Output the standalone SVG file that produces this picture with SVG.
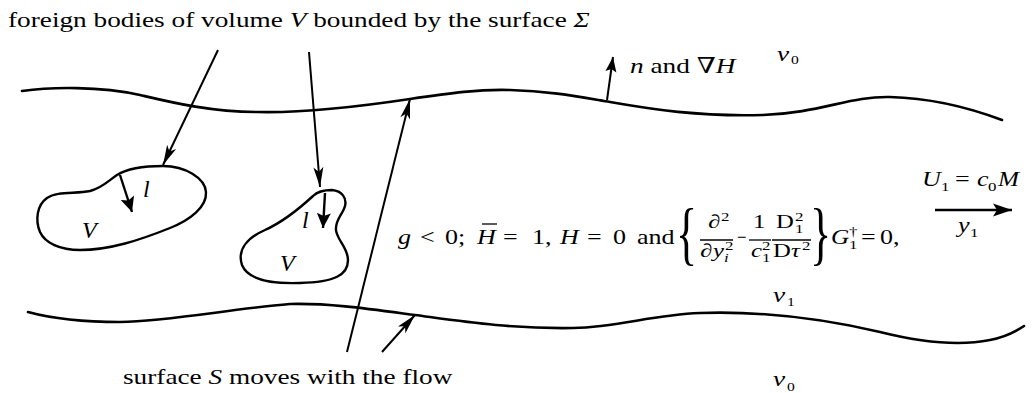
<svg xmlns="http://www.w3.org/2000/svg" width="1032" height="393" viewBox="0 0 1032 393">
<style>
text { font-family: "Liberation Serif", "DejaVu Serif", serif; fill: #000; }
.t { font-size: 22px; }
.i { font-style: italic; }
.e { font-size: 21px; }
.f { font-size: 19px; }
.s { font-size: 13px; }
.lab { font-size: 24px; font-style: italic; }
.br { font-size: 44px; }
.curve { fill: none; stroke: #000; stroke-width: 2.6; stroke-linecap: round; stroke-linejoin: round; }
.body { fill: none; stroke: #000; stroke-width: 2.4; }
.ln { fill: none; stroke: #000; stroke-width: 2; }
.ln2 { fill: none; stroke: #000; stroke-width: 2.4; }
.bar { stroke: #000; stroke-width: 1.3; }
</style>
<defs>
<marker id="ah" viewBox="-21 -6 22 12" refX="0" refY="0" markerWidth="22" markerHeight="12" markerUnits="userSpaceOnUse" orient="auto"><path d="M0,0 L-20,-5 L-15,0 L-20,5 Z"/></marker>
<marker id="ahn" viewBox="-17 -6 18 12" refX="0" refY="0" markerWidth="18" markerHeight="12" markerUnits="userSpaceOnUse" orient="auto"><path d="M0,0 L-15,-5.5 L-12,0 L-15,5.5 Z"/></marker>
<marker id="ahl" viewBox="-17 -8 18 16" refX="0" refY="0" markerWidth="18" markerHeight="16" markerUnits="userSpaceOnUse" orient="auto"><path d="M0,0 L-15,-7 L-12,0 L-15,7 Z"/></marker>
<marker id="ahf" viewBox="-21 -8 22 16" refX="0" refY="0" markerWidth="22" markerHeight="16" markerUnits="userSpaceOnUse" orient="auto"><path d="M0,0 L-19,-6.5 L-15,0 L-19,6.5 Z"/></marker>
</defs>

<g id="title">
<text class="t" transform="translate(8,27) scale(1.24,1)">foreign bodies of volume <tspan class="i">V</tspan> bounded by the surface <tspan class="i">Σ</tspan></text>
</g>

<g id="surface-top">
<path class="curve" d="M22,91 C50,87 100,86 140,95 C170,102 210,112 258,112 C300,113 350,108 410,99 C450,93 480,89 510,90 C550,91 580,97 610,102 C650,109 700,117 763,115 C820,113 850,96 890,97 C930,98 970,108 1002,120"/>
</g>

<g id="surface-bottom">
<path class="curve" d="M28,312 C50,318 80,322 120,322 C170,321 230,309 290,304 C330,303 370,309 415,315 C460,321 510,329 573,328 C620,327 650,315 700,313 C760,311 820,318 880,332 C920,342 960,346 990,340 C1005,337 1015,332 1024,326"/>
</g>

<g id="body-left">
<path class="body" d="M117,175 C128,168 145,166 163,166 C185,166 205,178 206,192 C207,207 190,220 170,228 C140,240 110,250 80,250 C60,250 45,243 40,232 C35,220 37,205 47,198 C57,191 75,194 90,191 C102,188 108,181 117,175 Z"/>
<text class="lab" x="143" y="197">l</text>
<text class="lab" x="82" y="238">V</text>
</g>

<g id="body-right">
<path class="body" d="M313,196 C318,191 325,190 332,190 C342,191 347,198 345,206 C343,214 335,220 336,230 C337,240 348,248 348,260 C348,275 335,282 300,283 C270,284 248,280 242,265 C237,250 247,238 265,230 C285,221 300,208 313,196 Z"/>
<text class="lab" x="302" y="228">l</text>
<text class="lab" x="280" y="271">V</text>
</g>

<g id="label-n">
<text class="t" transform="translate(630,73) scale(1.24,1)"><tspan class="i">n</tspan> and ∇<tspan class="i">H</tspan></text>
</g>

<g id="label-nu0-top">
<text class="t i" transform="translate(777,61) scale(1.24,1)">ν</text>
<text class="s" transform="translate(791,64) scale(1.2,1)">0</text>
</g>

<g id="label-nu1">
<text class="t i" transform="translate(773,302) scale(1.24,1)">ν</text>
<text class="s" transform="translate(787,306) scale(1.2,1)">1</text>
</g>

<g id="label-nu0-bottom">
<text class="t i" transform="translate(773,386) scale(1.24,1)">ν</text>
<text class="s" transform="translate(787,391) scale(1.2,1)">0</text>
</g>

<g id="label-flow">
<text class="e i" transform="translate(922,186) scale(1.24,1)">U</text>
<text class="s" transform="translate(941,191) scale(1.3,1)">1</text>
<text class="e" transform="translate(955,186) scale(1.24,1)">=</text>
<text class="e i" transform="translate(977,186) scale(1.24,1)">c</text>
<text class="s" transform="translate(988,191) scale(1.3,1)">0</text>
<text class="e i" transform="translate(998,186) scale(1.2,1)">M</text>
<text class="e i" transform="translate(958,232) scale(1.24,1)">y</text>
<text class="s" transform="translate(970,237) scale(1.3,1)">1</text>
</g>

<g id="equation">
<text class="e i" transform="translate(398,244) scale(1.24,1)">g</text>
<text class="e" transform="translate(420,244) scale(1.24,1)">&lt;</text>
<text class="e" transform="translate(445,244) scale(1.24,1)">0;</text>
<text class="e i" transform="translate(477,244) scale(1.24,1)">H</text>
<line class="bar" x1="482" y1="224" x2="497" y2="224"/>
<text class="e" transform="translate(503,244) scale(1.24,1)">=</text>
<text class="e" transform="translate(532,244) scale(1.24,1)">1,</text>
<text class="e i" transform="translate(560,244) scale(1.24,1)">H</text>
<text class="e" transform="translate(587,244) scale(1.24,1)">=</text>
<text class="e" transform="translate(613,244) scale(1.24,1)">0</text>
<text class="e" transform="translate(637,244) scale(1.24,1)">and</text>
<text class="br" transform="translate(676,257) scale(1,1.59)">{</text>
<text class="f" transform="translate(708,228) scale(1.3,1)">∂</text>
<text class="s" transform="translate(721,221) scale(1.3,1)">2</text>
<line class="bar" x1="700" y1="240" x2="733" y2="240"/>
<text class="f" transform="translate(700,257) scale(1.3,1)">∂</text>
<text class="f i" transform="translate(713,257) scale(1.3,1)">y</text>
<text class="s i" transform="translate(724,262) scale(1.3,1)">i</text>
<text class="s" transform="translate(725,250) scale(1.3,1)">2</text>
<text class="e" transform="translate(737,244) scale(0.8,1)">−</text>
<text class="f" transform="translate(753,228) scale(1.3,1)">1</text>
<line class="bar" x1="749" y1="240" x2="771" y2="240"/>
<text class="f i" transform="translate(751,257) scale(1.3,1)">c</text>
<text class="s" transform="translate(762,262) scale(1.3,1)">1</text>
<text class="s" transform="translate(762,250) scale(1.3,1)">2</text>
<text class="f" transform="translate(776,228) scale(1.3,1)">D</text>
<text class="s" transform="translate(795,233) scale(1.3,1)">1</text>
<text class="s" transform="translate(795,221) scale(1.3,1)">2</text>
<line class="bar" x1="772" y1="240" x2="811" y2="240"/>
<text class="f" transform="translate(773,257) scale(1.3,1)">D</text>
<text class="f i" transform="translate(791,257) scale(1.3,1)">τ</text>
<text class="s" transform="translate(802,250) scale(1.3,1)">2</text>
<text class="br" transform="translate(810,257) scale(1,1.59)">}</text>
<text class="e i" transform="translate(831,244) scale(1.2,1)">G</text>
<text class="s" transform="translate(849,249) scale(1.3,1)">1</text>
<text class="s" transform="translate(849,236) scale(1.3,1)">†</text>
<text class="e" transform="translate(861,244) scale(1.24,1)">=</text>
<text class="e" transform="translate(880,244) scale(1.24,1)">0,</text>
</g>

<g id="label-surface">
<text class="t" transform="translate(123,384) scale(1.24,1)">surface <tspan class="i">S</tspan> moves with the flow</text>
</g>

<g id="connectors">
<line class="ln" x1="218" y1="50" x2="163" y2="165" marker-end="url(#ah)"/>
<line class="ln" x1="309" y1="52" x2="320" y2="187" marker-end="url(#ah)"/>
<line class="ln" x1="347" y1="352" x2="410" y2="99" marker-end="url(#ah)"/>
<line class="ln" x1="382" y1="352" x2="415" y2="315" marker-end="url(#ah)"/>
<line class="ln" x1="607" y1="100" x2="613" y2="57" marker-end="url(#ahn)"/>
<line class="ln2" x1="935" y1="210" x2="1012" y2="210" marker-end="url(#ahf)"/>
<line class="ln2" x1="120" y1="175" x2="132" y2="212" marker-end="url(#ahl)"/>
<line class="ln2" x1="325" y1="193" x2="323" y2="228" marker-end="url(#ahl)"/>
</g>
</svg>
